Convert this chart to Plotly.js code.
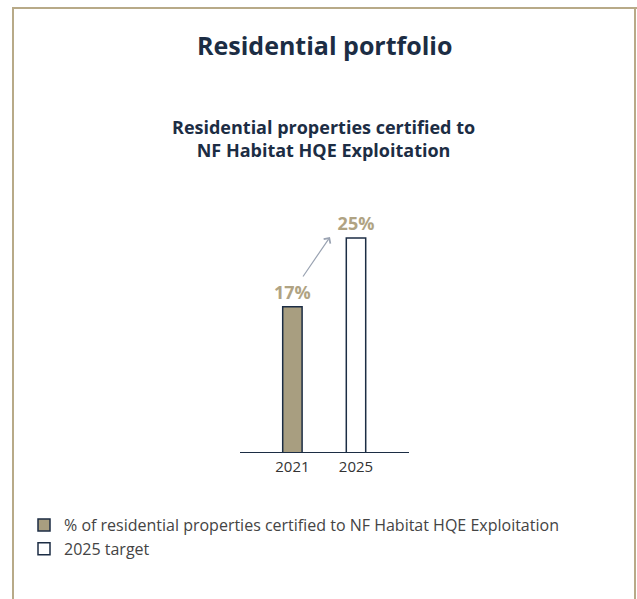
<!DOCTYPE html>
<html>
<head>
<meta charset="utf-8">
<script src="https://cdn.plot.ly/plotly-3.0.1.min.js"></script>
<style>
html,body{margin:0;padding:0;background:#fff;}
#chart{width:637px;height:599px;}
</style>
</head>
<body>
<div id="chart"></div>
<script>
// ---- data ----
const categories = ['2021', '2025'];
const seriesNames = ['% of residential properties certified to NF Habitat HQE Exploitation', '2025 target'];
const actualValues = [17];   // 2021
const targetValues = [25];   // 2025
const mainTitle = 'Residential portfolio';
const subTitleLines = ['Residential properties certified to', 'NF Habitat HQE Exploitation'];

// ---- layout geometry (pixels) ----
const W = 637, H = 599;
const plotL = 20, plotR = 620, plotT = 170, plotB = 453;
const pxPerUnitX = 63.6;
const c0 = 292.4;
const pxPerPct = 8.6;
const xr = [(plotL - c0) / pxPerUnitX, (plotR - c0) / pxPerUnitX];
const yr = [0, (plotB - plotT) / pxPerPct];
const px2x = p => (p - plotL) / (plotR - plotL);
const px2y = p => (plotB - p) / (plotB - plotT);

const navy = '#1c2d44';
const tan = '#a89e80';
const tanText = '#b0a383';
const frame = '#b8aa88';
const FONT = 'Open Sans';

const traces = [
  {
    type: 'bar', name: seriesNames[0], x: [categories[0]], y: actualValues,
    width: 0.305,
    marker: {color: tan, line: {color: navy, width: 1.5}},
    texttemplate: '%{y}%', textposition: 'outside', constraintext: 'none',
    textfont: {family: FONT, size: 18, weight: 700, color: tanText},
    cliponaxis: false, hoverinfo: 'skip'
  },
  {
    type: 'bar', name: seriesNames[1], x: [categories[1]], y: targetValues,
    width: 0.305,
    marker: {color: '#ffffff', line: {color: navy, width: 1.5}},
    texttemplate: '%{y}%', textposition: 'outside', constraintext: 'none',
    textfont: {family: FONT, size: 18, weight: 700, color: tanText},
    cliponaxis: false, hoverinfo: 'skip'
  }
];

const layout = {
  width: W, height: H,
  margin: {l: plotL, r: W - plotR, t: plotT, b: H - plotB, pad: 0},
  paper_bgcolor: '#ffffff', plot_bgcolor: 'rgba(0,0,0,0)',
  barmode: 'overlay',
  showlegend: true,
  xaxis: {
    type: 'category', categoryorder: 'array', categoryarray: categories,
    range: xr, showline: false,
    showgrid: false, zeroline: false, ticks: '', fixedrange: true,
    ticklabelstandoff: 3,
    tickfont: {family: FONT, size: 15, color: '#333333'}
  },
  yaxis: {
    range: yr, visible: false, showgrid: false, zeroline: false, fixedrange: true
  },
  legend: {
    xref: 'paper', yref: 'paper',
    x: px2x(24), y: px2y(508), xanchor: 'left', yanchor: 'top',
    orientation: 'v', bgcolor: 'rgba(0,0,0,0)',
    font: {family: FONT, size: 16, color: '#444444'},
    tracegroupgap: 0
  },
  annotations: [
    {
      xref: 'paper', yref: 'paper', x: px2x(324), y: px2y(45),
      text: '<b>' + mainTitle + '</b>', showarrow: false, xanchor: 'center', yanchor: 'middle',
      font: {family: FONT, size: 25, color: navy}
    },
    {
      xref: 'paper', yref: 'paper', x: px2x(323), y: px2y(138),
      text: '<b>' + subTitleLines.join('<br>') + '</b>', showarrow: false, xanchor: 'center', yanchor: 'middle',
      font: {family: FONT, size: 18, color: navy}
    },
    {
      xref: 'paper', yref: 'paper', axref: 'pixel', ayref: 'pixel',
      x: px2x(330), y: px2y(237),
      ax: 302 - 330, ay: 278 - 237,
      text: '', showarrow: true, arrowhead: 4, arrowsize: 1.3, arrowwidth: 1.2,
      arrowcolor: '#9aa3b2', standoff: 0, startstandoff: 0
    }
  ],
  shapes: [
    {type: 'line', xref: 'paper', yref: 'y', x0: px2x(240), x1: px2x(409), y0: 0, y1: 0, line: {color: navy, width: 2}, layer: 'above'},
    {type: 'line', xref: 'paper', yref: 'paper', x0: px2x(12), x1: px2x(637), y0: px2y(8), y1: px2y(8), line: {color: frame, width: 2}},
    {type: 'line', xref: 'paper', yref: 'paper', x0: px2x(13), x1: px2x(13), y0: px2y(7), y1: px2y(600), line: {color: frame, width: 2}},
    {type: 'line', xref: 'paper', yref: 'paper', x0: px2x(635), x1: px2x(635), y0: px2y(7), y1: px2y(600), line: {color: frame, width: 2}}
  ]
};

Plotly.newPlot('chart', traces, layout, {displayModeBar: false, staticPlot: true});
</script>
</body>
</html>
